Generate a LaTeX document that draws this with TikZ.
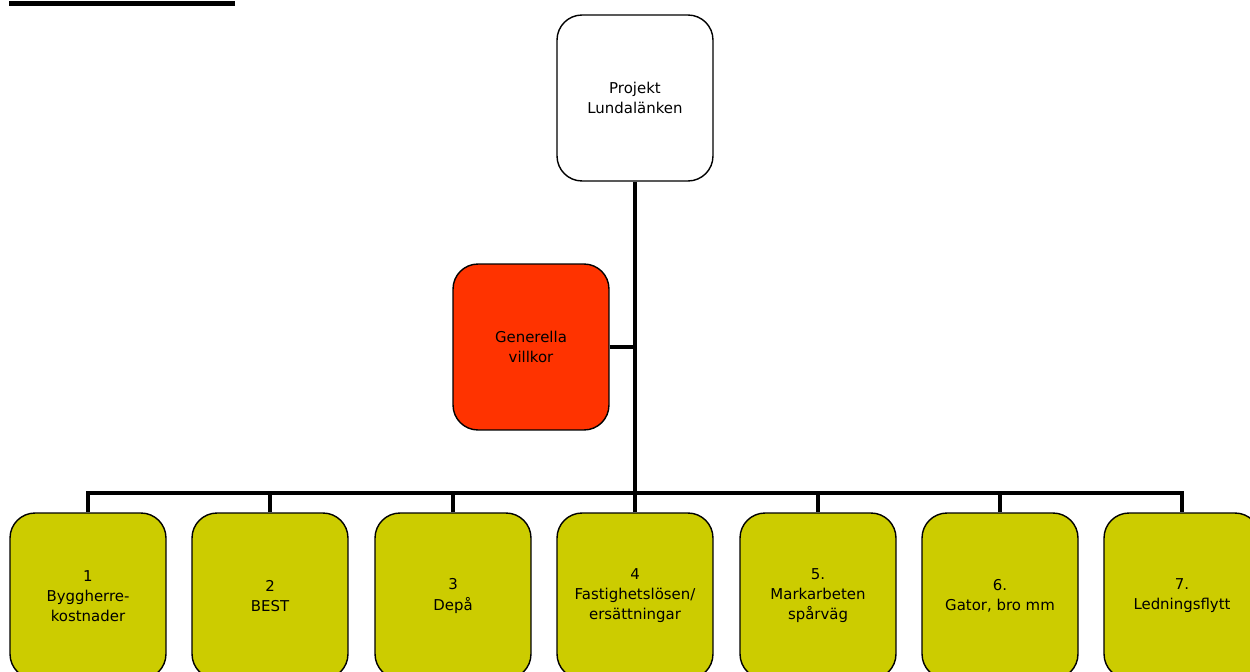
\documentclass[tikz,border=0pt]{standalone}
\usepackage{fontspec}
\setmainfont{DejaVu Sans}
\definecolor{partfill}{HTML}{CCCC00}
\definecolor{genfill}{HTML}{FF3300}
\tikzset{
  box/.style={draw, line width=0.8pt, rounded corners=0.5cm, minimum width=3.12cm,
    minimum height=3.32cm, align=center, font=\fontsize{8.5}{11.4}\selectfont},
  part/.style={box, fill=partfill},
  link/.style={line width=2.3pt},
}

\begin{document}
\begin{tikzpicture}[x=0.02cm, y=-0.02cm]
    \clip (0,0) rectangle (1250,672);
    \draw[line width=2.3pt] (9,3.5) -- (235,3.5);
    \node[box] (proj) at (635,98) {Projekt\\Lundalänken};
    \node[box, fill=genfill] (gen) at (531,347) {Generella\\villkor};
    \node[part] (p1) at (88,596)   {1\\Byggherre-\\kostnader};
    \node[part] (p2) at (270,596)  {2\\BEST};
    \node[part] (p3) at (453,596)  {3\\Depå};
    \node[part] (p4) at (635,596)  {4\\Fastighetslösen/\\ersättningar};
    \node[part] (p5) at (818,596)  {5.\\Markarbeten\\spårväg};
    \node[part] (p6) at (1000,596) {6.\\Gator, bro mm};
    \node[part] (p7) at (1182,596) {7.\\Ledningsflytt};
    \coordinate (bus) at (635,493);
    \draw[link] (proj.south) -- (bus);
    \draw[line width=1.8pt] (gen.east) -- (gen.east -| proj.south);
    \draw[link] (p1.north) |- (bus) -| (p7.north);
    \foreach \i in {2,...,6}
      \draw[link] (p\i.north) -- (p\i.north |- bus);
\end{tikzpicture}
\end{document}
